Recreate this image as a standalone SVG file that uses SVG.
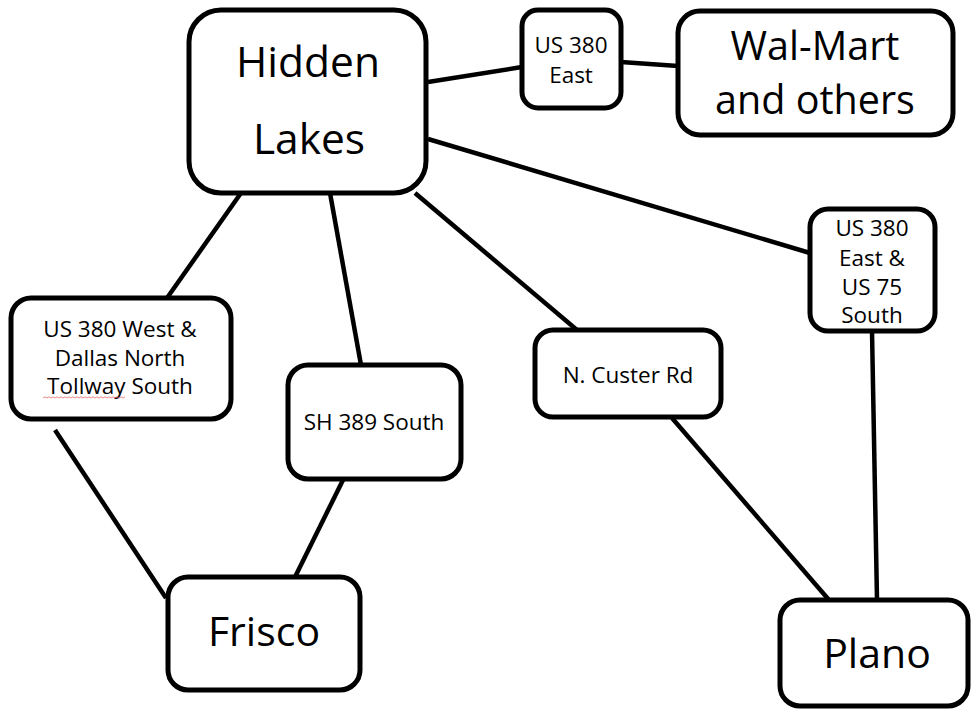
<svg xmlns="http://www.w3.org/2000/svg" width="971" height="711" viewBox="0 0 971 711">
<style>
.box{fill:#fff;stroke:#000;stroke-width:5}
.ln{stroke:#000;stroke-width:4.5;fill:none;stroke-linecap:butt}
.big{font-family:"Open Sans","Noto Sans","Liberation Sans",sans-serif;font-size:41px;fill:#000;text-anchor:middle}
.sm{font-family:"Open Sans","Noto Sans","Liberation Sans",sans-serif;font-size:22.5px;fill:#000;text-anchor:middle}
</style>
<rect width="971" height="711" fill="#fff"/>
<g id="connectors">
<line class="ln" x1="428" y1="82" x2="522" y2="67"/>
<line class="ln" x1="621" y1="62" x2="678" y2="66"/>
<line class="ln" x1="428" y1="139" x2="810" y2="253"/>
<line class="ln" x1="241" y1="193" x2="167" y2="298"/>
<line class="ln" x1="330" y1="193" x2="361" y2="365"/>
<line class="ln" x1="415" y1="193" x2="577" y2="330"/>
<line class="ln" x1="55" y1="430" x2="166" y2="598"/>
<line class="ln" x1="343" y1="480" x2="295" y2="577"/>
<line class="ln" x1="672" y1="418" x2="829" y2="600"/>
<line class="ln" x1="872" y1="331" x2="877" y2="600"/>
</g>
<g id="hidden-lakes">
<rect class="box" x="189" y="10" width="237" height="183" rx="32"/>
<text class="big" style="font-size:42.5px"><tspan x="308" y="77">Hidden</tspan><tspan x="309" y="154">Lakes</tspan></text>
</g>
<g id="us380-east">
<rect class="box" x="522" y="10" width="99" height="98" rx="16"/>
<text class="sm"><tspan x="571" y="53">US 380</tspan><tspan x="571" y="83">East</tspan></text>
</g>
<g id="walmart">
<rect class="box" x="678" y="11" width="275" height="124" rx="22"/>
<text class="big" style="font-size:39.5px"><tspan x="815" y="60">Wal-Mart</tspan><tspan x="815" y="114">and others</tspan></text>
</g>
<g id="us380-east-us75-south">
<rect class="box" x="810" y="209" width="125" height="122" rx="18"/>
<text class="sm"><tspan x="872" y="236">US 380</tspan><tspan x="872" y="266">East &amp;</tspan><tspan x="872" y="295">US 75</tspan><tspan x="872" y="323">South</tspan></text>
</g>
<g id="us380-west-dnt-south">
<rect class="box" x="11" y="298" width="220" height="121" rx="20"/>
<text class="sm"><tspan x="120" y="337">US 380 West &amp;</tspan><tspan x="120" y="366">Dallas North</tspan><tspan x="120" y="394">Tollway South</tspan></text>
<path d="M43 398 l2 -1.2 l2 1.2 l2 -1.2 l2 1.2 l2 -1.2 l2 1.2 l2 -1.2 l2 1.2 l2 -1.2 l2 1.2 l2 -1.2 l2 1.2 l2 -1.2 l2 1.2 l2 -1.2 l2 1.2 l2 -1.2 l2 1.2 l2 -1.2 l2 1.2 l2 -1.2 l2 1.2 l2 -1.2 l2 1.2 l2 -1.2 l2 1.2 l2 -1.2 l2 1.2 l2 -1.2 l2 1.2 l2 -1.2 l2 1.2 l2 -1.2 l2 1.2 l2 -1.2 l2 1.2 l2 -1.2 l2 1.2 l2 -1.2 l2 1.2 l2 -1.2" fill="none" stroke="#e35a5a" stroke-width="0.9" opacity="0.8"/>
</g>
<g id="sh389-south">
<rect class="box" x="288" y="365" width="173" height="114" rx="20"/>
<text class="sm" x="374" y="430">SH 389 South</text>
</g>
<g id="n-custer-rd">
<rect class="box" x="535" y="330" width="186" height="87" rx="18"/>
<text class="sm" x="628" y="383">N. Custer Rd</text>
</g>
<g id="frisco">
<rect class="box" x="168" y="577" width="192" height="113" rx="20"/>
<text class="big" x="264" y="646">Frisco</text>
</g>
<g id="plano">
<rect class="box" x="780" y="600" width="188" height="106" rx="20"/>
<text class="big" x="877" y="668">Plano</text>
</g>
</svg>
